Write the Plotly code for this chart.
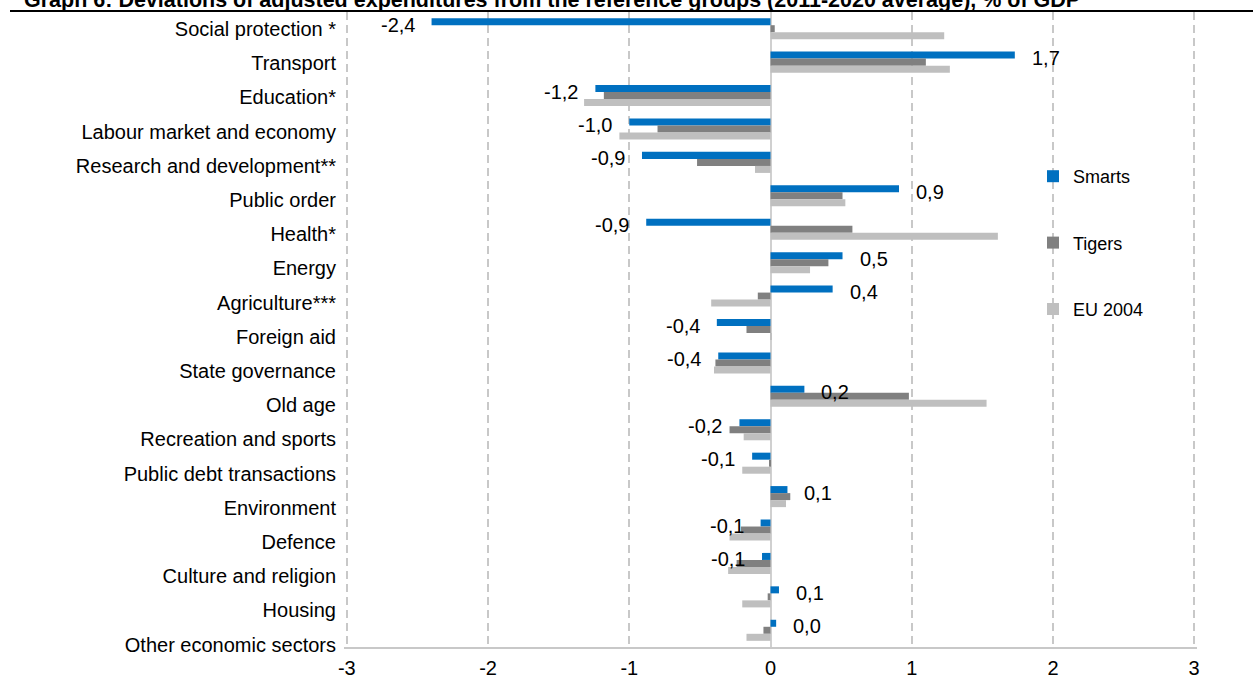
import plotly.graph_objects as go

CATEGORIES = [
    "Social protection *", "Transport", "Education*", "Labour market and economy",
    "Research and development**", "Public order", "Health*", "Energy", "Agriculture***",
    "Foreign aid", "State governance", "Old age", "Recreation and sports",
    "Public debt transactions", "Environment", "Defence", "Culture and religion",
    "Housing", "Other economic sectors",
]
SMARTS = [-2.40, 1.73, -1.24, -1.00, -0.91, 0.91, -0.88, 0.51, 0.44, -0.38, -0.37,
          0.24, -0.22, -0.13, 0.12, -0.07, -0.06, 0.06, 0.04]
TIGERS = [0.03, 1.10, -1.18, -0.80, -0.52, 0.51, 0.58, 0.41, -0.09, -0.17, -0.39,
          0.98, -0.29, -0.01, 0.14, -0.21, -0.24, -0.02, -0.05]
EU2004 = [1.23, 1.27, -1.32, -1.07, -0.11, 0.53, 1.61, 0.28, -0.42, 0.01, -0.40,
          1.53, -0.19, -0.20, 0.11, -0.29, -0.30, -0.20, -0.17]
SERIES = ["Smarts", "Tigers", "EU 2004"]
COLORS = ["#0070C0", "#808080", "#BFBFBF"]
TICKS = [-3, -2, -1, 0, 1, 2, 3]
TICK_LABELS = ["-3", "-2", "-1", "0", "1", "2", "3"]
TITLE = "Graph 6: Deviations of adjusted expenditures from the reference groups (2011-2020 average), % of GDP"

FONT = "Liberation Sans Narrow, Arial Narrow, Liberation Sans, Arial, sans-serif"

W, H = 1253, 686
L, R, T, B = 344, 56, 12, 39
plot_h = H - T - B
plot_w = W - L - R
XPAD = 0.02

fig = go.Figure()
for name, vals, col in zip(SERIES, [SMARTS, TIGERS, EU2004], COLORS):
    fig.add_trace(go.Bar(
        name=name, x=vals, y=CATEGORIES, orientation="h",
        marker=dict(color=col, line=dict(width=0)),
        legendgroup=name, hoverinfo="x+y",
    ))

# value labels for the Smarts series
for cat, v in zip(CATEGORIES, SMARTS):
    fig.add_annotation(
        x=v, y=cat, xref="x", yref="y",
        text=f"{v:.1f}".replace(".", ","),
        xanchor="right" if v < 0 else "left",
        xshift=-15 if v < 0 else 15, yshift=4,
        showarrow=False,
        font=dict(family=FONT, size=20, color="#000000"),
    )

# invisible helper trace that carries the category labels on an overlay axis
fig.add_trace(go.Scatter(
    x=SMARTS, y=CATEGORIES, yaxis="y2", mode="markers",
    marker=dict(opacity=0), showlegend=False, hoverinfo="skip",
))

label_pitch = 34.2
top_off = (29 - T) / label_pitch
y2_range = [-top_off + plot_h / label_pitch, -top_off]

fig.update_layout(
    width=W, height=H,
    margin=dict(l=L, r=R, t=T, b=B, pad=0, autoexpand=False),
    paper_bgcolor="white", plot_bgcolor="white",
    barmode="group", bargap=0.37, bargroupgap=0,
    font=dict(family=FONT, size=20, color="#000000"),
    xaxis=dict(
        range=[TICKS[0] - XPAD, TICKS[-1] + XPAD], tickvals=TICKS, ticktext=TICK_LABELS,
        showgrid=True, gridcolor="#C8C8C8", gridwidth=1.5, griddash="8px,5px",
        zeroline=True, zerolinecolor="#D0D0D0", zerolinewidth=2,
        showline=True, linecolor="#C8C8C8", linewidth=2, mirror=False,
        ticks="", ticklabelstandoff=2, automargin=False,
        tickfont=dict(family=FONT, size=20, color="#000000"),
        fixedrange=True,
    ),
    yaxis=dict(
        type="category", categoryorder="array", categoryarray=CATEGORIES,
        range=[len(CATEGORIES) - 0.5, -0.5], automargin=False,
        showticklabels=False, showgrid=False, zeroline=False, showline=False,
        ticks="",
    ),
    yaxis2=dict(
        type="category", categoryorder="array", categoryarray=CATEGORIES,
        overlaying="y", side="left", anchor="x",
        range=y2_range, automargin=False,
        showgrid=False, zeroline=False, showline=False, ticks="",
        ticklabelstandoff=7,
        tickfont=dict(family=FONT, size=20, color="#000000"),
    ),
    legend=dict(
        x=(1033 - L) / plot_w, xanchor="left",
        y=1 - (158 - T) / plot_h, yanchor="top",
        font=dict(family=FONT, size=18, color="#000000"),
        tracegroupgap=40, traceorder="grouped",
        bgcolor="rgba(0,0,0,0)",
    ),
    showlegend=True,
)

fig.add_annotation(
    text="<b>" + TITLE + "</b>", xref="paper", yref="paper",
    x=(22 - L) / plot_w, xanchor="left",
    y=1 + (T - 14) / plot_h, yanchor="bottom",
    showarrow=False, font=dict(family=FONT, size=21.5, color="#000000"),
)
fig.add_shape(
    type="line", xref="paper", yref="paper",
    x0=(10 - L) / plot_w, x1=(W - L) / plot_w,
    y0=1 + (T - 11) / plot_h, y1=1 + (T - 11) / plot_h,
    line=dict(color="#000000", width=2),
)

fig.write_html("out.html")
